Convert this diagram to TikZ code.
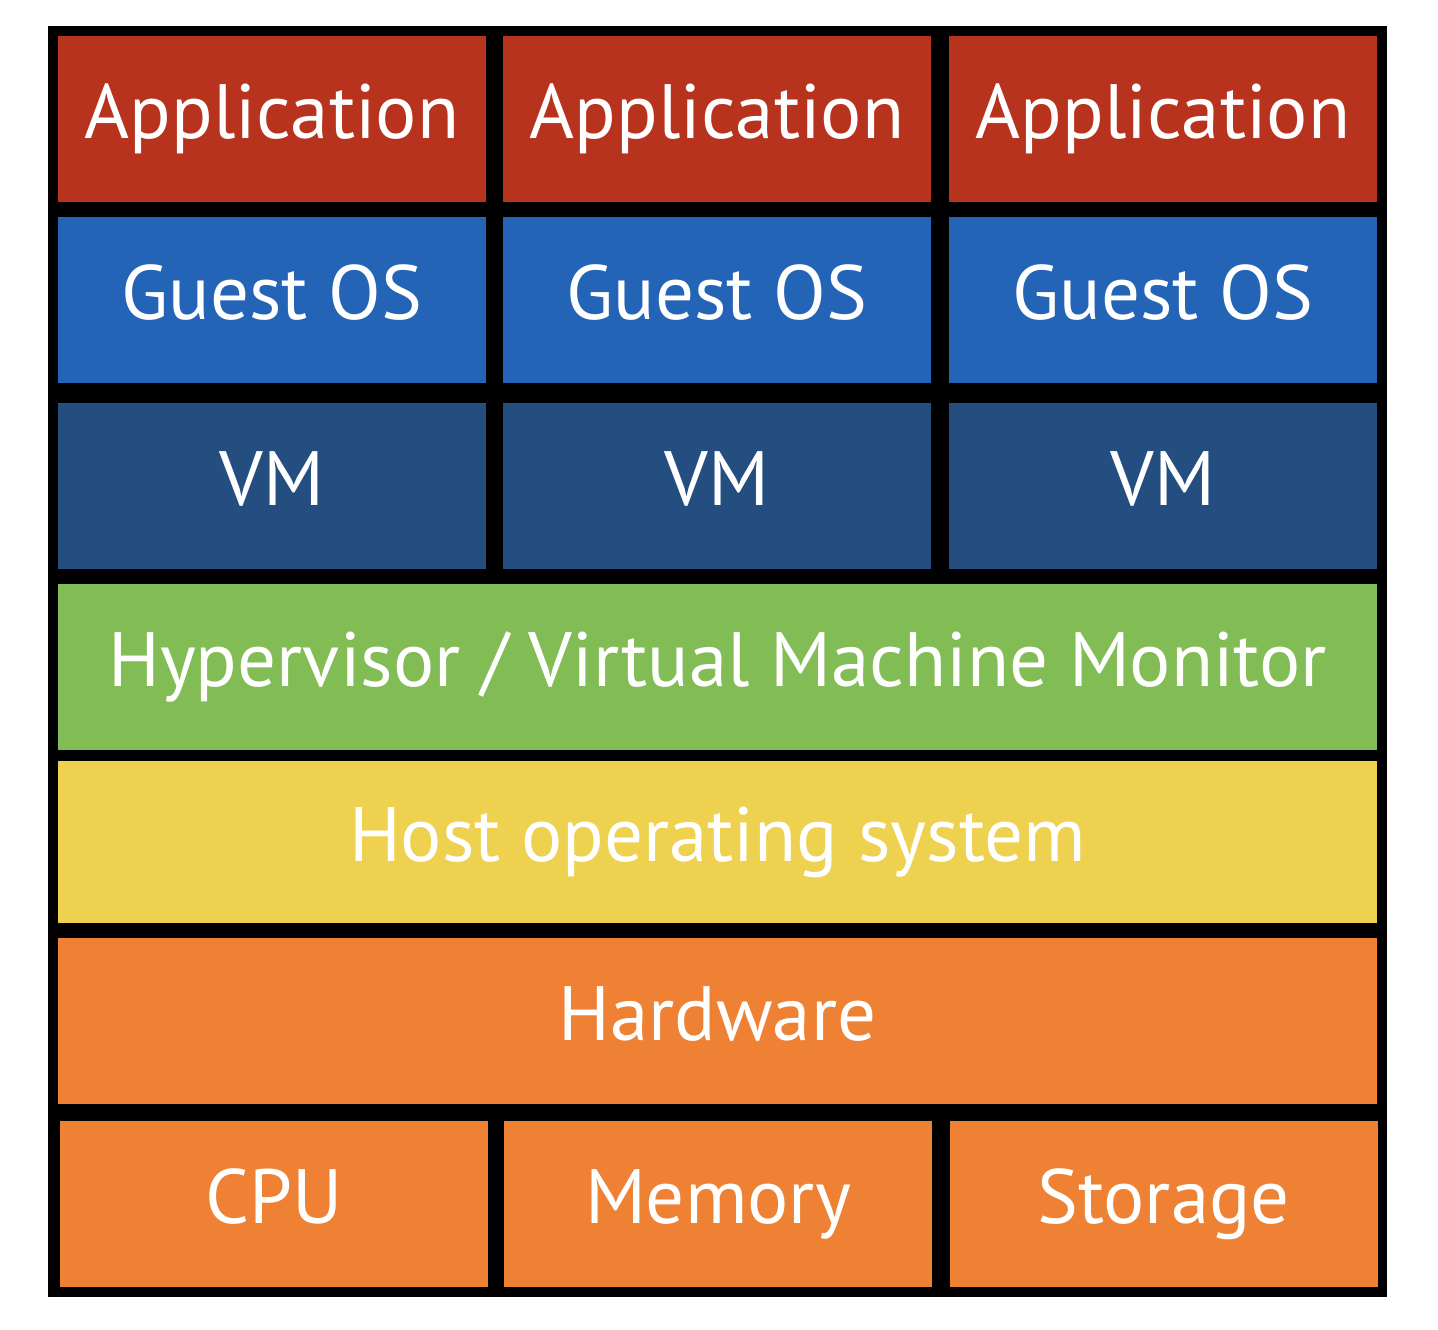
\documentclass[tikz,border=0pt]{standalone}
\usepackage{fontspec}
\setmainfont{PT Sans}

\definecolor{AppRed}{RGB}{183,51,30}
\definecolor{GuestBlue}{RGB}{35,100,183}
\definecolor{VMBlue}{RGB}{36,78,128}
\definecolor{HyperGreen}{RGB}{130,188,84}
\definecolor{HostYellow}{RGB}{239,209,80}
\definecolor{HwOrange}{RGB}{238,129,51}

\tikzset{
	layer/.style={rectangle, fill=#1, inner sep=0pt, text=white,
		text height=60pt, text depth=22pt, minimum height=166pt,
		font=\fontsize{77}{80}\selectfont},
	cell/.style={layer=#1, minimum width=428pt},
	band/.style={layer=#1, minimum width=1319pt}
}

\begin{document}
\begin{tikzpicture}[x=1pt, y=-1pt]
		\useasboundingbox (0,0) rectangle (1438,1330);
		% Frame
		\fill[black] (48,26) rectangle (1387,1297);
		
		% Applications
		\node[cell=AppRed] (App1) at (272,119) {Application};
		\node[cell=AppRed] (App2) at (717,119) {Application};
		\node[cell=AppRed] (App3) at (1163,119) {Application};
		
		% Guest OS
		\node[cell=GuestBlue] (Guest1) at (272,300) {Guest OS};
		\node[cell=GuestBlue] (Guest2) at (717,300) {Guest OS};
		\node[cell=GuestBlue] (Guest3) at (1163,300) {Guest OS};
		
		% VMs
		\node[cell=VMBlue] (VM1) at (272,486) {VM};
		\node[cell=VMBlue] (VM2) at (717,486) {VM};
		\node[cell=VMBlue] (VM3) at (1163,486) {VM};
		
		% Shared layers
		\node[band=HyperGreen] (Hypervisor) at (717.5,667) {Hypervisor / Virtual Machine Monitor};
		\node[band=HostYellow, minimum height=162pt] (HostOS) at (717.5,842) {Host operating system};
		\node[band=HwOrange] (Hardware) at (717.5,1021) {Hardware};
		
		% Resources
		\node[cell=HwOrange] (CPU) at (274,1204) {CPU};
		\node[cell=HwOrange] (Memory) at (718,1204) {Memory};
		\node[cell=HwOrange] (Storage) at (1163.5,1204) {Storage};
		
	\end{tikzpicture}
\end{document}
